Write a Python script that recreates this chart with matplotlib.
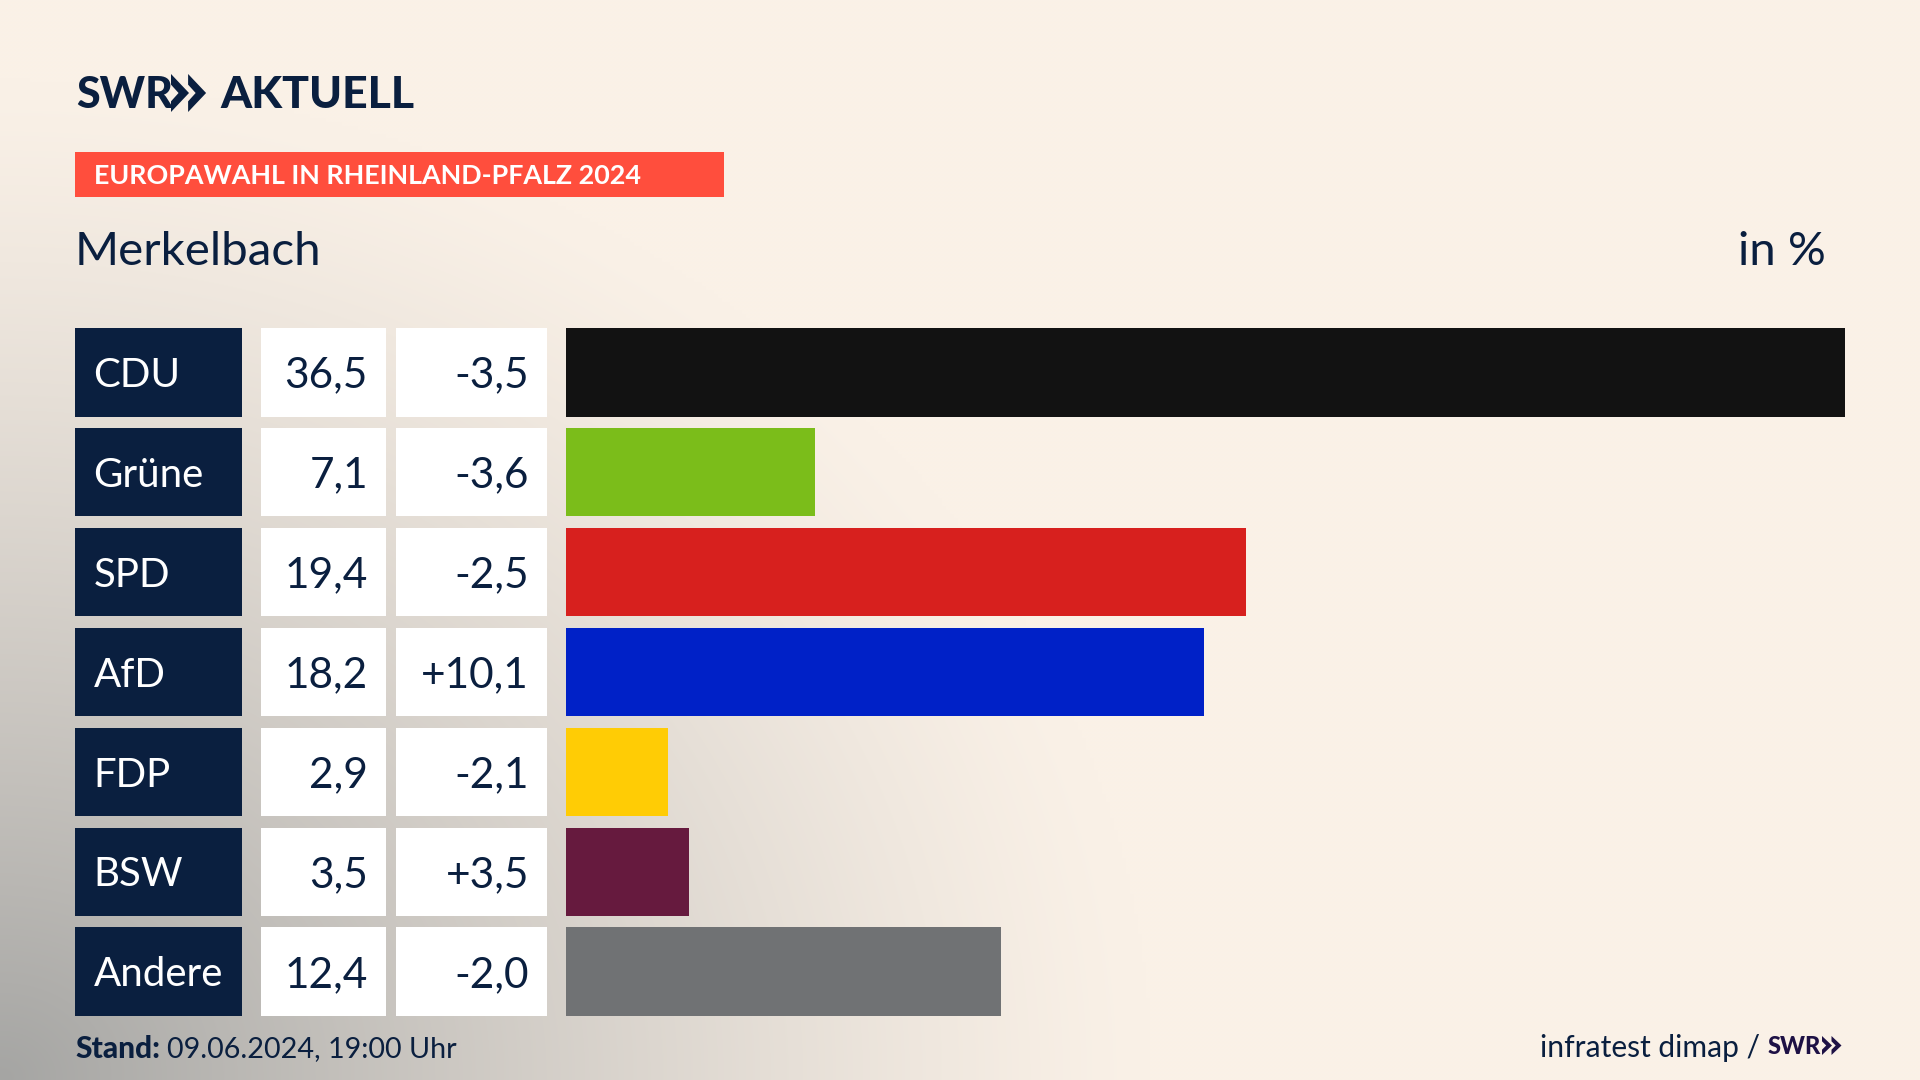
import numpy as np
import matplotlib
matplotlib.use("Agg")
import matplotlib.pyplot as plt
from matplotlib.patches import Rectangle, Polygon

parties = ["CDU", "Grüne", "SPD", "AfD", "FDP", "BSW", "Andere"]
shares = [36.5, 7.1, 19.4, 18.2, 2.9, 3.5, 12.4]
changes = [-3.5, -3.6, -2.5, 10.1, -2.1, 3.5, -2.0]
bar_colors = ["#121212", "#7BBD1A", "#D7201E", "#0021C7", "#FFCC05", "#661A3E", "#707274"]

NAVY = "#0A1F3F"
FONT = "Lato"


def de(v, sign=False):
    s = f"{v:+.1f}" if sign else f"{v:.1f}"
    return s.replace(".", ",")


def chevrons(ax, x, y0, y1, w, color):
    ym = (y0 + y1) / 2
    h = y1 - y0
    for dx in (0, w * 0.95):
        ax.add_patch(Polygon([(x + dx, y0), (x + dx + w, ym), (x + dx, y1), (x + dx, y1 - 0.28 * h),
                              (x + dx + w * 0.42, ym), (x + dx, y0 + 0.28 * h)], color=color, lw=0))


fig = plt.figure(figsize=(19.2, 10.8), dpi=100)

# page in pixel coordinates
bg = fig.add_axes([0, 0, 1, 1])
bg.set_xlim(0, 1920)
bg.set_ylim(1080, 0)
bg.axis("off")

# grey glow from the bottom left corner over the cream
yy, xx = np.mgrid[0:1080:270j, 0:1920:480j]
d = np.sqrt((xx / 1150) ** 2 + ((1080 - yy) / 1000) ** 2)
t = np.clip(1 - d, 0, 1) ** 1.25
cream = np.array([250, 241, 231]) / 255
grey = np.array([165, 165, 163]) / 255
img = cream[None, None, :] + (grey - cream)[None, None, :] * t[:, :, None]
bg.imshow(img, extent=(0, 1920, 1080, 0), aspect="auto", interpolation="bilinear")

# header
bg.text(76, 95, "SWR", fontsize=31, fontweight="black", family=FONT, color=NAVY, va="center", ha="left")
chevrons(bg, 171, 74, 112, 18, NAVY)
bg.text(220, 95, "AKTUELL", fontsize=32, fontweight="black", family=FONT, color=NAVY, va="center", ha="left")
bg.add_patch(Rectangle((75, 152), 649, 45, color="#FF4E3D", lw=0))
bg.text(94, 176, "EUROPAWAHL IN RHEINLAND-PFALZ 2024", fontsize=19.4, fontweight="bold", family=FONT,
        color="white", va="center", ha="left")
bg.text(75, 252, "Merkelbach", fontsize=34.2, family=FONT, color=NAVY, va="center", ha="left")
bg.text(1826, 252, "in %", fontsize=34, family=FONT, color=NAVY, va="center", ha="right")

# table cells
for i, party in enumerate(parties):
    top = 328 + 99.9 * i
    mid = top + 44.5
    bg.add_patch(Rectangle((75, top), 167, 88.5, color=NAVY, lw=0))
    bg.add_patch(Rectangle((261, top), 125, 88.5, color="white", lw=0))
    bg.add_patch(Rectangle((396, top), 151, 88.5, color="white", lw=0))
    bg.text(93.5, mid + 3, party, fontsize=29, family=FONT, color="white", va="center", ha="left")
    bg.text(368, mid + 3, de(shares[i]), fontsize=30.5, family=FONT, color=NAVY, va="center", ha="right")
    bg.text(529, mid + 3, de(changes[i], sign=True), fontsize=30.5, family=FONT, color=NAVY, va="center", ha="right")

# footer
bg.text(75, 1049, "Stand:", fontsize=21.5, fontweight="black", family=FONT, color=NAVY, va="center", ha="left")
bg.text(167, 1049, "09.06.2024, 19:00 Uhr", fontsize=20.7, family=FONT, color=NAVY, va="center", ha="left")
bg.text(1760, 1048, "infratest dimap /", fontsize=21.6, family=FONT, color=NAVY, va="center", ha="right")
bg.text(1768, 1047, "SWR", fontsize=17, fontweight="black", family=FONT, color="#1E1145", va="center", ha="left")
chevrons(bg, 1822, 1036, 1055, 10, "#1E1145")

# bars
ax = fig.add_axes([566 / 1920, (1080 - 1016) / 1080, 1279 / 1920, 688 / 1080])
ax.patch.set_alpha(0)
ax.barh(range(len(parties)), shares, height=0.885, color=bar_colors)
ax.set_xlim(0, max(shares))
ax.set_ylim(6.445, -0.445)
ax.axis("off")

fig.savefig("out.png", dpi=100)
